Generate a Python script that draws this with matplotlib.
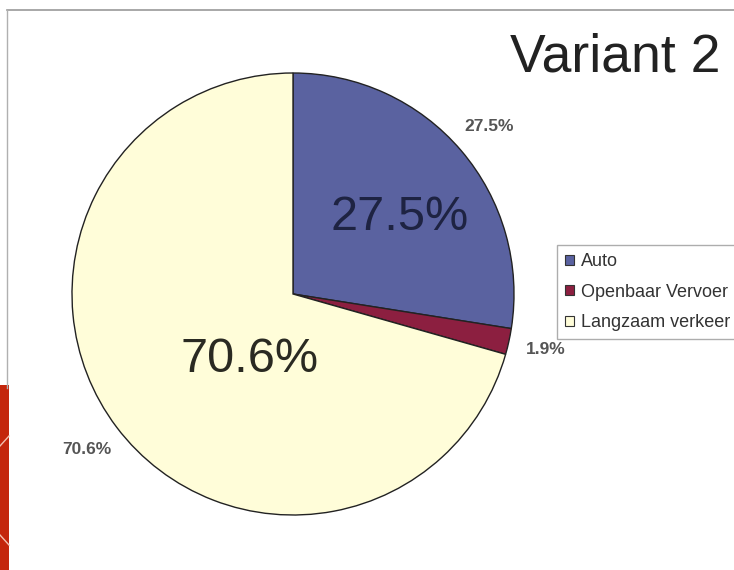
import matplotlib.pyplot as plt
from matplotlib.patches import Rectangle

plt.rcParams['font.family'] = ['Liberation Sans', 'DejaVu Sans']

# vervoerwijze-verdeling, variant 2
categories = ['Auto', 'Openbaar Vervoer', 'Langzaam verkeer']
shares = [27.5, 1.9, 70.6]
colors = ['#5A62A0', '#8C1F40', '#FFFDD9']
title = 'Variant 2'

W, H = 734, 570
fig = plt.figure(figsize=(W / 100, H / 100), dpi=100)
ax = fig.add_axes([0, 0, 1, 1])

cx, cy, r = 293, 276, 221   # pie centre and radius (pixels)

wedges, outer, pct = ax.pie(
    shares, colors=colors, startangle=90, counterclock=False,
    radius=r, center=(cx, cy),
    wedgeprops=dict(edgecolor='#222222', linewidth=1.0),
    labels=None, autopct='%.1f%%', pctdistance=1.17,
    textprops=dict(fontsize=12.5, color='#555555'))
for t in pct:
    t.set_fontweight('bold')

# big labels inside the two largest slices
ax.text(cx + 107, cy + 76, '%.1f%%' % shares[0], fontsize=35,
        color='#1E2342', ha='center', va='center')
ax.text(cx - 43, cy - 66, '%.1f%%' % shares[2], fontsize=35,
        color='#2A2A22', ha='center', va='center')

ax.text(615, H - 58, title, fontsize=38.5, color='#222222',
        ha='center', va='center')

leg = ax.legend(wedges, categories, loc='upper left',
                bbox_to_anchor=(557, H - 245), bbox_transform=ax.transData,
                borderaxespad=0, fontsize=13, frameon=True, fancybox=False,
                edgecolor='#999999', handlelength=0.5, handleheight=0.5,
                handletextpad=0.4, labelspacing=0.75, borderpad=0.45)
leg.get_frame().set_linewidth(1.0)
for h in leg.legend_handles:
    h.set_edgecolor('#333333')
    h.set_linewidth(0.8)
for t in leg.get_texts():
    t.set_color('#333333')

# page frame and red strip on the left
ax.plot([7, W], [H - 10, H - 10], color='#9A9A9A', lw=1.2)
ax.plot([7, 7], [H - 10, H - 388], color='#B0B0B0', lw=1.0)
ax.add_patch(Rectangle((0, 0), 9, H - 385, color='#C4260C', lw=0))
ax.plot([0, 9], [H - 446, H - 436], color='#F3C0B0', lw=1.0)
ax.plot([0, 9], [H - 535, H - 545], color='#F3C0B0', lw=1.0)

ax.set_xlim(0, W)
ax.set_ylim(0, H)
ax.set_aspect('auto')
ax.axis('off')

fig.savefig('out.png', dpi=100)
